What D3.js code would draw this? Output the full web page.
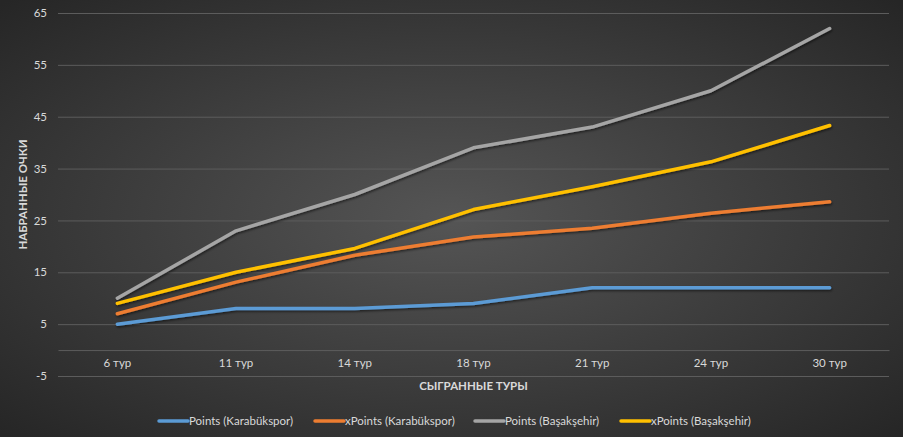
<!DOCTYPE html>
<html><head><meta charset="utf-8">
<script src="https://cdn.jsdelivr.net/npm/d3@7/dist/d3.min.js"></script>
<style>
html,body{margin:0;padding:0;background:#333;}
svg{display:block;}
text{font-family:"Lato","Roboto",sans-serif;}
</style></head>
<body>
<svg id="chart" width="903" height="437"></svg>
<script>
const categories = ["6 тур","11 тур","14 тур","18 тур","21 тур","24 тур","30 тур"];
const pointsKarabuk = [5, 8, 8, 9, 12, 12, 12];
const xPointsKarabuk = [7, 13.1, 18.3, 21.8, 23.5, 26.4, 28.6];
const pointsBasak = [10, 23, 30, 39, 43, 50, 62];
const xPointsBasak = [9, 15, 19.6, 27.1, 31.5, 36.3, 43.3];
const seriesNames = ["Points (Karabükspor)","xPoints (Karabükspor)","Points (Başakşehir)","xPoints (Başakşehir)"];
const seriesColors = ["#5b9bd5","#ed7d31","#a5a5a5","#ffc000"];
const yTicks = [-5, 5, 15, 25, 35, 45, 55, 65];
const yTitle = "НАБРАННЫЕ ОЧКИ";
const xTitle = "СЫГРАННЫЕ ТУРЫ";

(function(){
const series = [pointsKarabuk, xPointsKarabuk, pointsBasak, xPointsBasak];
const W = 903, H = 437;
const svg = d3.select("#chart");
const defs = svg.append("defs");
const rg = defs.append("radialGradient").attr("id","bg")
  .attr("cx","50%").attr("cy","50%").attr("r","70%");
rg.append("stop").attr("offset","0%").attr("stop-color","#555555");
rg.append("stop").attr("offset","100%").attr("stop-color","#262626");
const f = defs.append("filter").attr("id","sh").attr("x","-10%").attr("y","-10%").attr("width","120%").attr("height","130%");
f.append("feDropShadow").attr("dx",0.8).attr("dy",1.5).attr("stdDeviation",1.2)
  .attr("flood-color","#000").attr("flood-opacity",0.55);

svg.append("rect").attr("width",W).attr("height",H).attr("fill","url(#bg)");

const pL = 58, pR = 889, pT = 13, pB = 376;
const x = d3.scaleBand().domain(categories).range([pL, pR]);
const y = d3.scaleLinear().domain([-5, 65]).range([pB, pT]);

const yAxis = d3.axisLeft(y).tickValues(yTicks).tickFormat(d=>String(d)).tickSize(-(pR-pL));
const gy = svg.append("g").attr("transform",`translate(${pL},0)`).call(yAxis);
gy.select(".domain").remove();
gy.selectAll(".tick line").attr("stroke","#5c5c5c").attr("stroke-width",1);
gy.selectAll(".tick text").attr("fill","#d9d9d9").attr("font-size",11.5).attr("x",-11).attr("text-anchor","end");

const xAxis = d3.axisBottom(x).tickSize(0).tickPadding(9);
const gx = svg.append("g").attr("transform",`translate(0,${y(0)})`).call(xAxis);
gx.select(".domain").attr("stroke","#5c5c5c").attr("stroke-width",1);
gx.selectAll(".tick text").attr("fill","#d9d9d9").attr("font-size",11.5);

const line = d3.line().x((d,i)=>x(categories[i]) + x.bandwidth()/2).y(d=>y(d));
series.forEach((s,k)=>{
  svg.append("path").datum(s).attr("d",line).attr("fill","none")
    .attr("stroke",seriesColors[k]).attr("stroke-width",3.5)
    .attr("stroke-linecap","round").attr("stroke-linejoin","round")
    .attr("filter","url(#sh)");
});

svg.append("text").attr("transform",`translate(27,${(pT+pB)/2}) rotate(-90)`)
  .attr("text-anchor","middle").attr("fill","#d9d9d9").attr("font-size",11.5).attr("font-weight","bold").text(yTitle);
svg.append("text").attr("x",(pL+pR)/2).attr("y",390)
  .attr("text-anchor","middle").attr("fill","#d9d9d9").attr("font-size",11.5).attr("font-weight","bold").text(xTitle);

const legX = [159, 315, 475, 621];
seriesNames.forEach((n,k)=>{
  const g = svg.append("g").attr("transform",`translate(${legX[k]},421)`);
  g.append("line").attr("x1",0).attr("x2",29).attr("y1",0).attr("y2",0)
    .attr("stroke",seriesColors[k]).attr("stroke-width",3.5).attr("stroke-linecap","round");
  g.append("text").attr("x",30).attr("y",4.2).attr("fill","#d9d9d9").attr("font-size",11.5).text(n);
});
})();
</script>
</body></html>
